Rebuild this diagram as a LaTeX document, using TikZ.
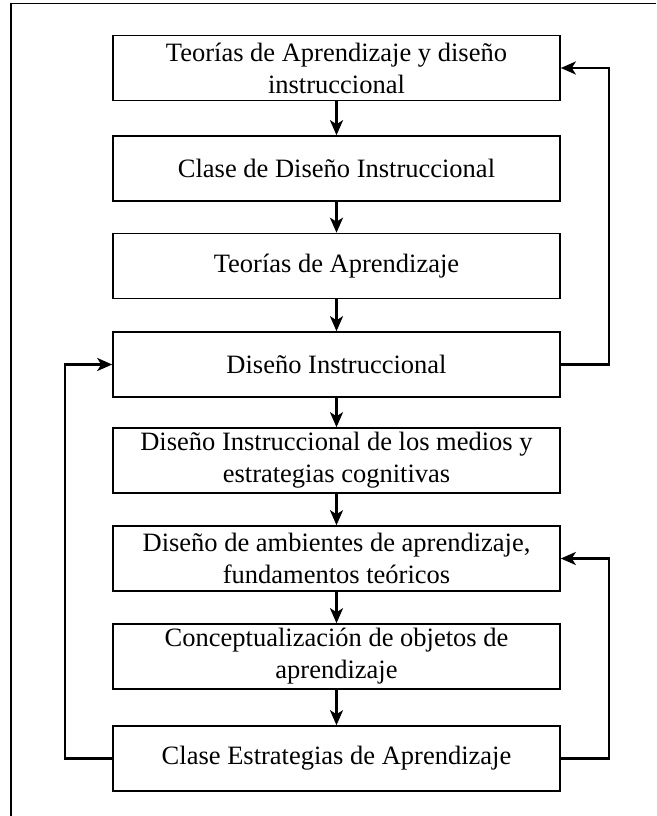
\documentclass[tikz,border=0pt]{standalone}
\usepackage{fontspec}
\setmainfont{Liberation Serif}
\usetikzlibrary{arrows.meta}
\begin{document}
\begin{tikzpicture}[x=1pt,y=-1pt,
  stage/.style={draw=black, line width=1.6pt, minimum width=447pt,
    minimum height=65pt, inner sep=0pt, align=center,
    font=\fontsize{26.5}{32}\selectfont},
  flow/.style={line width=2.4pt, -{Stealth[length=15pt,width=13pt,inset=4pt]}}]
\useasboundingbox (0,0) rectangle (656,816);
% outer frame (open at right and bottom)
\draw[line width=1.8pt] (11,816) -- (11,3.5) -- (656,3.5);

% stages of the course sequence
\node[stage] (b1) at (336.5,68)    {Teorías de Aprendizaje y diseño\\instruccional};
\node[stage] (b2) at (336.5,168.5) {Clase de Diseño Instruccional};
\node[stage] (b3) at (336.5,266)   {Teorías de Aprendizaje};
\node[stage] (b4) at (336.5,364.5) {Diseño Instruccional};
\node[stage] (b5) at (336.5,460.5) {Diseño Instruccional de los medios y\\estrategias cognitivas};
\node[stage] (b6) at (336.5,558.5) {Diseño de ambientes de aprendizaje,\\fundamentos teóricos};
\node[stage] (b7) at (336.5,656.5) {Conceptualización de objetos de\\aprendizaje};
\node[stage] (b8) at (336.5,758.5) {Clase Estrategias de Aprendizaje};

% main downward flow
\draw[flow] (b1) -- (b2);
\draw[flow] (b2) -- (b3);
\draw[flow] (b3) -- (b4);
\draw[flow] (b4) -- (b5);
\draw[flow] (b5) -- (b6);
\draw[flow] (b6) -- (b7);
\draw[flow] (b7) -- (b8);

% feedback loops
\draw[flow] (b4.east) -- ++(48,0) |- (b1.east);
\draw[flow] (b8.east) -- ++(48,0) |- (b6.east);
\draw[flow] (b8.west) -- ++(-47.5,0) |- (b4.west);
\end{tikzpicture}
\end{document}
